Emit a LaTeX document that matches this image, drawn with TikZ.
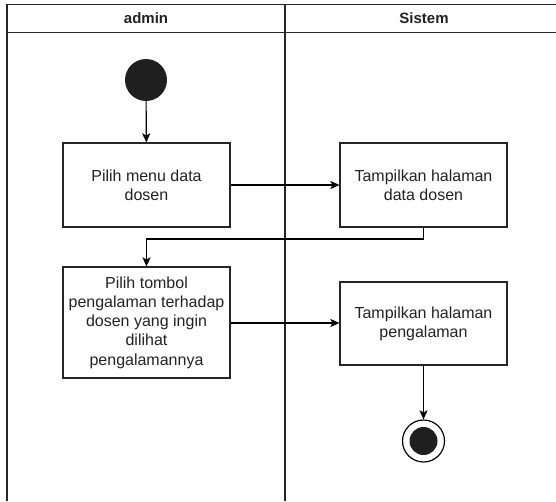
\documentclass[tikz,border=0pt]{standalone}
\usepackage{fontspec}
\setmainfont{Liberation Sans}
\usetikzlibrary{arrows.meta}
\definecolor{txt}{HTML}{222222}
\begin{document}
\begin{tikzpicture}[x=1pt,y=-1pt,
  every node/.style={font=\fontsize{16}{19.2}\selectfont, text=txt},
  lane/.style={line width=1.4pt, draw=black!85},
  act/.style={draw=black!85, line width=1.2pt, minimum width=167pt, inner sep=0pt, align=center},
  arr/.style={draw=black, line width=1.2pt, -{Stealth[length=9pt,width=8pt,inset=2pt]}},
  hdr/.style={font=\fontsize{15}{18}\selectfont\bfseries}]
\useasboundingbox (0,0) rectangle (556,501);
% swimlanes
\draw[lane] (7,501) -- (7,4.5) -- (560,4.5);
\draw[lane] (7,32.5) -- (560,32.5);
\draw[lane] (285,4.5) -- (285,501);
\node[hdr] (h1) at (146,18.5) {admin};
\node[hdr] (h2) at (424,18.5) {Sistem};
% start
\node[circle, fill=black!88, minimum size=42pt, inner sep=0pt] (start) at (146,80) {};
% activities
\node[act, minimum height=84pt] (b1) at (146.5,185) {Pilih menu data\\dosen};
\node[act, minimum height=84pt] (b2) at (423.5,185) {Tampilkan halaman\\data dosen};
\node[act, minimum height=111pt] (b3) at (146.5,322.5) {Pilih tombol\\pengalaman terhadap\\dosen yang ingin\\dilihat\\pengalamannya};
\node[act, minimum height=83pt] (b4) at (423.5,323.5) {Tampilkan halaman\\pengalaman};
% end
\node[circle, draw=black, line width=1.2pt, minimum size=42pt, inner sep=0pt] (end) at (423.5,441) {};
\node[circle, fill=black!88, minimum size=28pt, inner sep=0pt] (endin) at (423.5,441) {};
% flows
\coordinate (k) at (146.5,239);
\draw[arr] (start) -- (b1);
\draw[arr] (b1) -- (b2);
\draw[arr] (b2.south) |- (k) -- (b3.north);
\draw[arr] (b3.east |- 0,323) -- (b4.west |- 0,323);
\draw[arr] (b4) -- (end);
\end{tikzpicture}
\end{document}
